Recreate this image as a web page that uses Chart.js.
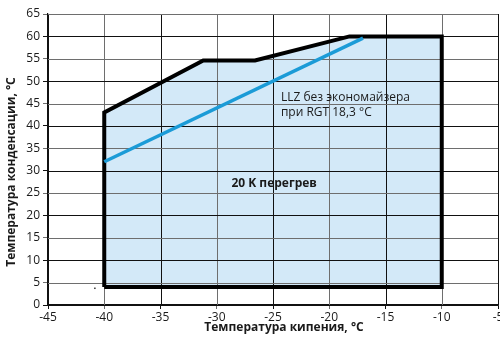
<!DOCTYPE html>
<html>
<head>
<meta charset="utf-8">
<script src="https://cdn.jsdelivr.net/npm/chart.js@4.4.1/dist/chart.umd.min.js"></script>
<style>
  html, body { margin: 0; padding: 0; background: #fff; }
  #wrap { width: 500px; height: 337px; position: relative; }
</style>
</head>
<body>
<div id="wrap"><canvas id="chart"></canvas></div>
<script>
/* DATA */
const envelopeX = [-40, -40, -31.2, -26.6, -18.2, -10, -10, -40];
const envelopeY = [4, 43, 54.6, 54.6, 60, 60, 4, 4];
const llzX = [-40, -17];
const llzY = [32, 59.6];
const xTicks = [-45, -40, -35, -30, -25, -20, -15, -10, -5];
const yTicks = [0, 5, 10, 15, 20, 25, 30, 35, 40, 45, 50, 55, 60, 65];

const xTitle = "Температура кипения, °C";
const yTitle = "Температура конденсации, °C";
const noteLines = ["LLZ без экономайзера", "при RGT 18,3 °C"];
const noteBold = "20 K перегрев";

const FONT = "'Open Sans', 'Noto Sans', sans-serif";

function pts(xs, ys) {
  return xs.map((x, i) => ({ x: x, y: ys[i] }));
}

/* grid colours: black / grey alternating */
function gridColor(ctx) {
  return ctx.index % 2 === 0 ? "#111" : "#6e6e6e";
}

/* GRID: drawn right after the envelope fill, before its outline */
const gridPlugin = {
  id: "overGrid",
  beforeDatasetDraw(chart, args) {
    if (args.index !== 1) return;
    const c = chart.ctx;
    const a = chart.chartArea;
    const xs = chart.scales.x, ys = chart.scales.y;
    c.save();
    xTicks.forEach((v, i) => {
      c.fillStyle = gridColor({ index: i });
      c.fillRect(Math.round(xs.getPixelForValue(v)), a.top, 1, a.bottom - a.top);
    });
    yTicks.forEach((v, i) => {
      c.fillStyle = gridColor({ index: i });
      c.fillRect(a.left, Math.round(ys.getPixelForValue(v)), a.right - a.left, 1);
    });
    c.restore();
  }
};

/* TEXT */
const textPlugin = {
  id: "notes",
  afterDatasetsDraw(chart) {
    const c = chart.ctx;
    const xs = chart.scales.x, ys = chart.scales.y;
    c.save();
    c.fillStyle = "#1a1a1a";
    c.textBaseline = "middle";
    c.textAlign = "left";
    c.font = "12px " + FONT;
    c.fillText(noteLines[0], xs.getPixelForValue(-24.3), ys.getPixelForValue(46.4));
    c.fillText(noteLines[1], xs.getPixelForValue(-24.3), ys.getPixelForValue(43.0));

    c.font = "bold 12px " + FONT;
    c.textAlign = "center";
    c.fillText(noteBold, xs.getPixelForValue(-24.9), ys.getPixelForValue(27.2));
    c.fillText(xTitle, 284, 328);
    c.restore();

    c.save();
    c.fillStyle = "#1a1a1a";
    c.font = "bold 12px " + FONT;
    c.textAlign = "center";
    c.textBaseline = "middle";
    c.translate(12, 172);
    c.rotate(-Math.PI / 2);
    c.fillText(yTitle, 0, 0);
    c.restore();

    c.save();
    c.fillStyle = "#333";
    c.fillRect(xs.getPixelForValue(-40.9), ys.getPixelForValue(3.9), 1.5, 1.5);
    c.restore();
  }
};

new Chart(document.getElementById("chart"), {
  type: "line",
  data: {
    datasets: [
      {
        data: pts(llzX, llzY),
        borderColor: "#1b9bd7",
        borderWidth: 3.5,
        pointRadius: 0,
        fill: false
      },
      {
        data: pts(envelopeX, envelopeY),
        borderColor: "#000",
        borderWidth: 4,
        backgroundColor: "#d3e9f8",
        fill: "shape",
        pointRadius: 0
      }
    ]
  },
  options: {
    responsive: true,
    maintainAspectRatio: false,
    animation: false,
    layout: { padding: { top: 14, right: 2 } },
    plugins: {
      legend: { display: false },
      tooltip: { enabled: false }
    },
    scales: {
      x: {
        type: "linear",
        min: -45,
        max: -5,
        afterBuildTicks: s => { s.ticks = xTicks.map(v => ({ value: v })); },
        afterFit: s => { s.height = 32; s.paddingLeft = 0; s.paddingRight = 0; },
        ticks: { color: "#1a1a1a", font: { family: FONT, size: 12 }, padding: 1, maxRotation: 0 },
        grid: { color: gridColor, lineWidth: 1, tickLength: 4, drawOnChartArea: false },
        border: { color: "#111", width: 1.2 }
      },
      y: {
        min: 0,
        max: 65,
        afterBuildTicks: s => { s.ticks = yTicks.map(v => ({ value: v })); },
        afterFit: s => { s.width = 48; s.paddingTop = 0; s.paddingBottom = 0; },
        ticks: { color: "#1a1a1a", font: { family: FONT, size: 12 }, padding: 3 },
        grid: { color: gridColor, lineWidth: 1, tickLength: 5, drawOnChartArea: false },
        border: { color: "#111", width: 1.2 }
      }
    }
  },
  plugins: [gridPlugin, textPlugin]
});
</script>
</body>
</html>
